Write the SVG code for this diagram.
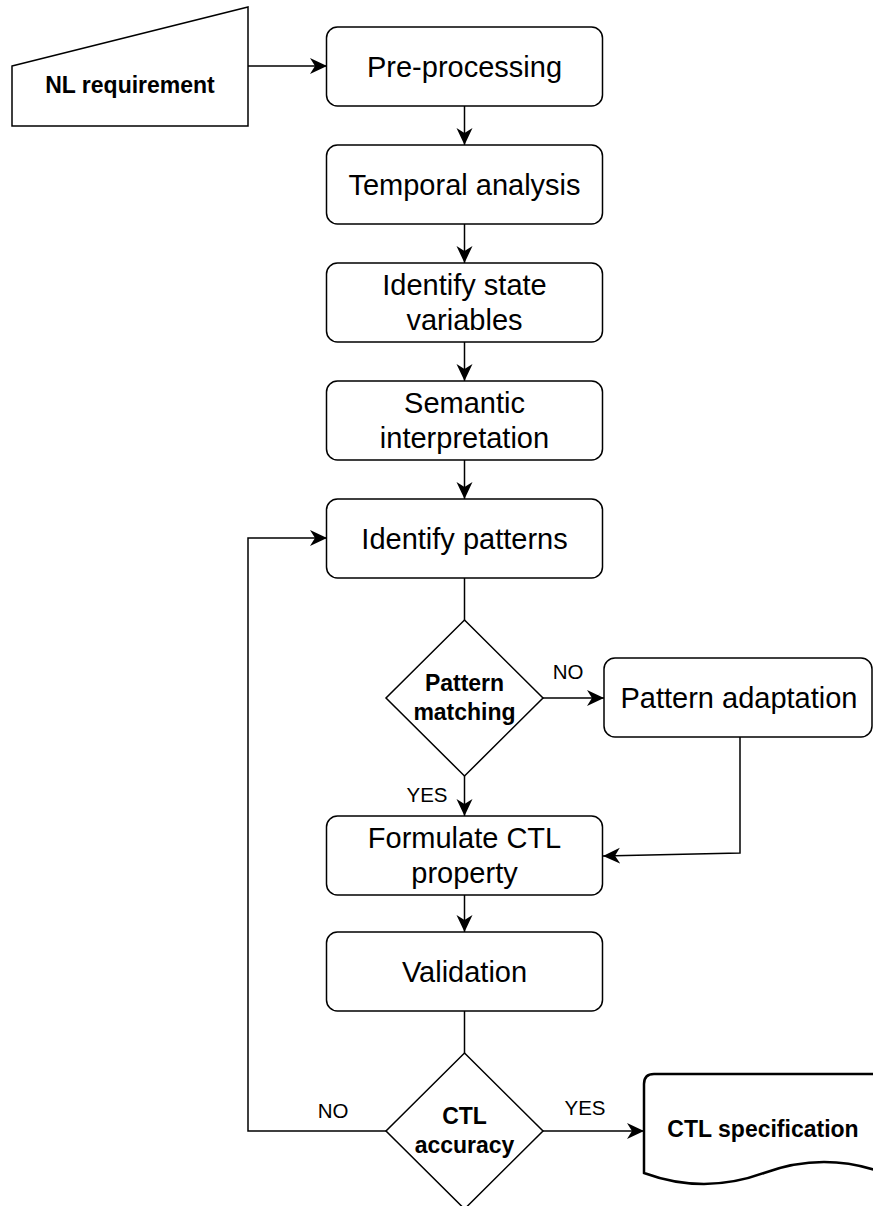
<svg xmlns="http://www.w3.org/2000/svg" width="873" height="1206" viewBox="0 0 873 1206">
  <style>
    .shape { fill: #ffffff; stroke: #000000; stroke-width: 1.5; }
    .doc { fill: #ffffff; stroke: #000000; stroke-width: 2.5; }
    .edge { fill: none; stroke: #000000; stroke-width: 1.5; }
    .lbl { font-family: "Liberation Sans", Arial, Helvetica, sans-serif; font-size: 29px; fill: #000000; text-anchor: middle; }
    .blbl { font-family: "Liberation Sans", Arial, Helvetica, sans-serif; font-size: 23px; font-weight: bold; fill: #000000; text-anchor: middle; }
    .elbl { font-family: "Liberation Sans", Arial, Helvetica, sans-serif; font-size: 20.5px; fill: #000000; text-anchor: middle; }
  </style>
  <defs>
    <marker id="arrow" viewBox="0 0 17 17" refX="17" refY="8.5" markerWidth="17" markerHeight="17" markerUnits="userSpaceOnUse" orient="auto">
      <path d="M0,0.5 L17,8.5 L0,16.5 L5,8.5 Z" fill="#000000"/>
    </marker>
  </defs>

  <rect width="873" height="1206" fill="#ffffff"/>

  <g id="connectors">
    <path class="edge" d="M248,66 L327,66" marker-end="url(#arrow)"/>
    <path class="edge" d="M464.5,106 L464.5,145" marker-end="url(#arrow)"/>
    <path class="edge" d="M464.5,224 L464.5,263" marker-end="url(#arrow)"/>
    <path class="edge" d="M464.5,342 L464.5,381" marker-end="url(#arrow)"/>
    <path class="edge" d="M464.5,460 L464.5,499" marker-end="url(#arrow)"/>
    <path class="edge" d="M464.5,578 L464.5,620"/>
    <path class="edge" d="M543,698 L604,698" marker-end="url(#arrow)"/>
    <path class="edge" d="M464.5,776 L464.5,816" marker-end="url(#arrow)"/>
    <path class="edge" d="M740,737 L740,853 L603,856" marker-end="url(#arrow)"/>
    <path class="edge" d="M464.5,895 L464.5,932" marker-end="url(#arrow)"/>
    <path class="edge" d="M464.5,1011 L464.5,1053"/>
    <path class="edge" d="M543,1131 L644,1131" marker-end="url(#arrow)"/>
    <path class="edge" d="M386,1131 L248,1131 L248,538 L327,538" marker-end="url(#arrow)"/>
    <text class="elbl" x="568" y="679">NO</text>
    <text class="elbl" x="427" y="802">YES</text>
    <text class="elbl" x="333" y="1118">NO</text>
    <text class="elbl" x="585" y="1115">YES</text>
  </g>

  <g id="nl-requirement">
    <path class="shape" d="M12,66 L248,7 L248,126 L12,126 Z"/>
    <text class="blbl" x="130" y="93">NL requirement</text>
  </g>

  <g id="pre-processing">
    <rect class="shape" x="326.5" y="27" width="276" height="79" rx="11" ry="11"/>
    <text class="lbl" x="464.5" y="77">Pre-processing</text>
  </g>

  <g id="temporal-analysis">
    <rect class="shape" x="326.5" y="145" width="276" height="79" rx="11" ry="11"/>
    <text class="lbl" x="464.5" y="195">Temporal analysis</text>
  </g>

  <g id="identify-state-variables">
    <rect class="shape" x="326.5" y="263" width="276" height="79" rx="11" ry="11"/>
    <text class="lbl" x="464.5" y="295">Identify state</text>
    <text class="lbl" x="464.5" y="330">variables</text>
  </g>

  <g id="semantic-interpretation">
    <rect class="shape" x="326.5" y="381" width="276" height="79" rx="11" ry="11"/>
    <text class="lbl" x="464.5" y="413">Semantic</text>
    <text class="lbl" x="464.5" y="448">interpretation</text>
  </g>

  <g id="identify-patterns">
    <rect class="shape" x="326.5" y="499" width="276" height="79" rx="11" ry="11"/>
    <text class="lbl" x="464.5" y="549">Identify patterns</text>
  </g>

  <g id="pattern-matching">
    <path class="shape" d="M464.5,620 L543,698 L464.5,776 L386,698 Z"/>
    <text class="blbl" x="464.5" y="691">Pattern</text>
    <text class="blbl" x="464.5" y="720">matching</text>
  </g>

  <g id="pattern-adaptation">
    <rect class="shape" x="604" y="658" width="268" height="79" rx="11" ry="11"/>
    <text class="lbl" x="739" y="708">Pattern adaptation</text>
  </g>

  <g id="formulate-ctl-property">
    <rect class="shape" x="326.5" y="816" width="276" height="79" rx="11" ry="11"/>
    <text class="lbl" x="464.5" y="848">Formulate CTL</text>
    <text class="lbl" x="464.5" y="883">property</text>
  </g>

  <g id="validation">
    <rect class="shape" x="326.5" y="932" width="276" height="79" rx="11" ry="11"/>
    <text class="lbl" x="464.5" y="982">Validation</text>
  </g>

  <g id="ctl-accuracy">
    <path class="shape" d="M464.5,1053 L543,1131 L464.5,1209 L386,1131 Z"/>
    <text class="blbl" x="464.5" y="1124">CTL</text>
    <text class="blbl" x="464.5" y="1153">accuracy</text>
  </g>

  <g id="ctl-specification">
    <path class="doc" d="M644,1173 L644,1084 Q644,1074 654,1074 L874,1074 Q884,1074 884,1084 L884,1173 Q824,1151 764,1173 Q704,1195 644,1173 Z"/>
    <text class="blbl" x="763" y="1137">CTL specification</text>
  </g>
</svg>
